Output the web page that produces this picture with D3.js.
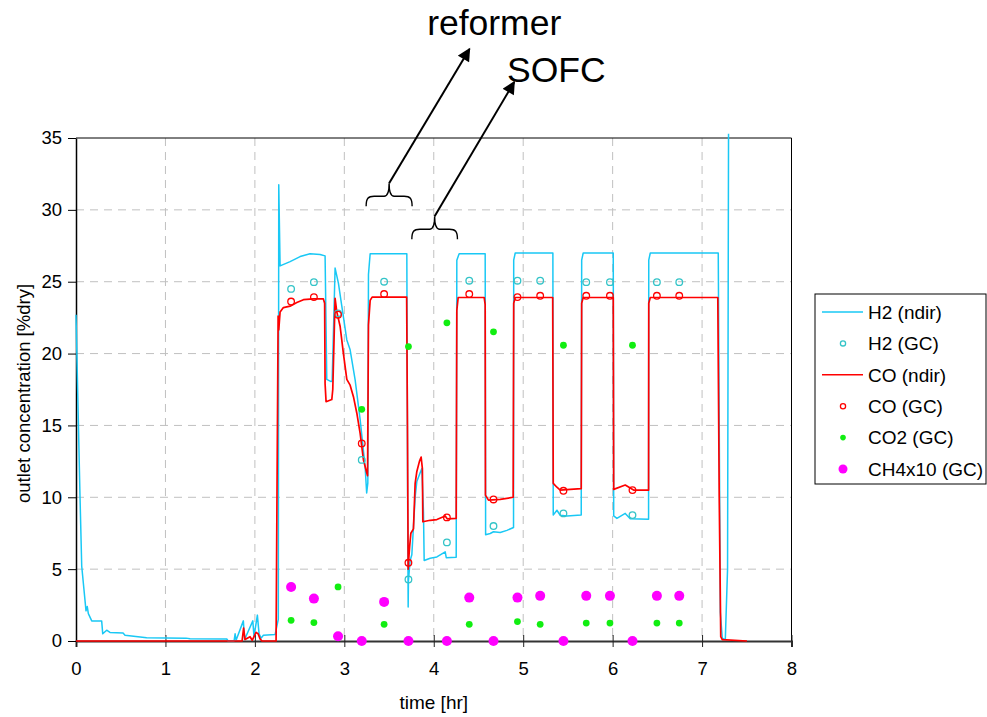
<!DOCTYPE html>
<html>
<head>
<meta charset="utf-8">
<script src="https://cdn.jsdelivr.net/npm/d3@7"></script>
<style>
  body { margin: 0; background: #fff; }
  svg { font-family: "Liberation Sans", Arial, sans-serif; }
</style>
</head>
<body>
<div id="grafica"></div>
<script>
// GC sample times [hr] and values [%dry]
var gcTime = [2.405, 2.66, 2.93, 3.195, 3.445, 3.717, 4.147, 4.397, 4.668, 4.936, 5.19, 5.45, 5.705, 5.97, 6.222, 6.495, 6.745];
var h2GC   = [24.5, 24.97, 22.8, 12.6, 25.0, 4.28, 6.86, 25.07, 8.0, 25.07, 25.07, 8.88, 24.97, 24.97, 8.76, 24.97, 24.97];
var coGC   = [23.62, 23.93, 22.7, 13.75, 24.14, 5.44, 8.6, 24.14, 9.85, 23.93, 24.02, 10.45, 24.02, 24.02, 10.5, 24.02, 24.02];
var co2GC  = [1.44, 1.28, 3.76, 16.12, 1.16, 20.49, 22.14, 1.16, 21.51, 1.35, 1.16, 20.58, 1.25, 1.25, 20.58, 1.25, 1.25];
var ch4GC  = [3.76, 2.95, 0.33, 0, 2.72, 0, 0, 3.02, 0, 3.02, 3.14, 0, 3.14, 3.14, 0, 3.14, 3.14];

// continuous analyser traces [time, value]
var h2Ndir = [
  [0, 22.7], [0.045, 10], [0.064, 5.2], [0.112, 2.1], [0.126, 2.4], [0.138, 1.9], [0.176, 1.4], [0.287, 1.4],
  [0.299, 0.5], [0.343, 0.75], [0.38, 0.6], [0.526, 0.56], [0.548, 0.4], [0.79, 0.23], [1.23, 0.2], [1.275, 0.15],
  [1.686, 0.14], [1.70, 0], [1.767, 0], [1.779, 0.5], [1.79, 0.05], [1.871, 1.4], [1.885, 0.1], [1.977, 1.4],
  [1.99, 0.3], [2.028, 1.8], [2.047, 0.5], [2.07, 0.2], [2.095, 0.4], [2.226, 0.45], [2.262, 1.5], [2.267, 31.75],
  [2.282, 26.1], [2.394, 26.4], [2.506, 26.75], [2.617, 26.95], [2.729, 26.9], [2.785, 26.8], [2.804, 18.2],
  [2.852, 18.05], [2.864, 18.1], [2.897, 25.95], [2.934, 24.9], [2.972, 23.3], [3.028, 20.95], [3.065, 20.26],
  [3.121, 18.17], [3.177, 15.4], [3.233, 12.1], [3.25, 10.3], [3.263, 11.0], [3.27, 25.5], [3.289, 26.95],
  [3.699, 26.95], [3.708, 10], [3.714, 2.37], [3.717, 4.2], [3.736, 5.6], [3.755, 6.0], [3.792, 10.0],
  [3.811, 11.1], [3.848, 11.7], [3.867, 12.0], [3.885, 9.0], [3.893, 5.6], [3.96, 5.76], [4.035, 5.85],
  [4.128, 6.2], [4.14, 5.8], [4.251, 5.83], [4.258, 26.5], [4.284, 26.95], [4.575, 26.95], [4.58, 7.4],
  [4.631, 7.48], [4.668, 7.6], [4.743, 7.55], [4.818, 7.7], [4.892, 7.9], [4.894, 26.5], [4.911, 27.0],
  [5.332, 27.0], [5.336, 8.76], [5.377, 9.1], [5.414, 8.75], [5.489, 8.7], [5.649, 8.76], [5.654, 26.5],
  [5.671, 27.0], [6.007, 27.0], [6.012, 8.7], [6.048, 8.53], [6.141, 8.88], [6.197, 8.5], [6.402, 8.48],
  [6.404, 26.5], [6.421, 27.0], [7.181, 27.0], [7.192, 15], [7.204, 2], [7.226, 0.2], [7.26, 0.1],
  [7.285, 5], [7.296, 35.3]
];
var coNdir = [
  [0, 0], [1.857, 0], [1.874, 0.9], [1.89, 0.1], [1.946, 0.3], [1.97, 0.05], [2.013, 0.6], [2.036, 0.5],
  [2.058, 0.15], [2.08, 0], [2.237, 0], [2.26, 22.6], [2.267, 21.65], [2.282, 22.9], [2.319, 23.2],
  [2.394, 23.3], [2.469, 23.55], [2.543, 23.75], [2.654, 23.8], [2.766, 23.8], [2.78, 23.5], [2.785, 17.9],
  [2.796, 16.65], [2.86, 16.8], [2.871, 17.5], [2.897, 23.85], [2.916, 22.9], [2.953, 21.9], [2.99, 20.0],
  [3.028, 18.2], [3.065, 17.8], [3.102, 17.0], [3.14, 15.85], [3.177, 14.45], [3.214, 12.6], [3.252, 11.67],
  [3.26, 11.5], [3.27, 22.0], [3.289, 23.7], [3.311, 23.93], [3.697, 23.93], [3.706, 15], [3.714, 5.0],
  [3.717, 5.4], [3.73, 6.55], [3.744, 7.5], [3.773, 7.8], [3.792, 10.97], [3.811, 11.8], [3.84, 12.5],
  [3.859, 12.8], [3.873, 12.0], [3.878, 8.3], [3.96, 8.4], [4.035, 8.45], [4.128, 8.7], [4.15, 8.5],
  [4.251, 8.53], [4.258, 23.0], [4.273, 23.9], [4.564, 23.9], [4.575, 23.4], [4.578, 10.15], [4.612, 9.8],
  [4.743, 9.85], [4.888, 10.0], [4.894, 23.5], [4.911, 23.9], [5.33, 23.9], [5.336, 10.97], [5.377, 10.7],
  [5.414, 10.5], [5.526, 10.55], [5.649, 10.6], [5.654, 23.5], [5.671, 23.9], [6.007, 23.9], [6.012, 10.55],
  [6.141, 10.85], [6.234, 10.5], [6.402, 10.5], [6.404, 23.5], [6.421, 23.9], [7.176, 23.9], [7.192, 10],
  [7.209, 0.3], [7.226, 0.1], [7.502, 0]
];

var xTicks = [0, 1, 2, 3, 4, 5, 6, 7, 8];
var yTicks = [0, 5, 10, 15, 20, 25, 30, 35];
var legendNames = ["H2 (ndir)", "H2 (GC)", "CO (ndir)", "CO (GC)", "CO2 (GC)", "CH4x10 (GC)"];

// annotations: brace [t0, t1, y], arrow [t, y] -> [t, y], label
var braceLabels = ["reformer", "SOFC"];
var braceSpans = [[3.244, 3.758, 30.95], [3.755, 4.265, 28.65]];
var arrowEnds = [[4.4, 41.2], [4.9, 38.9]];
var labelPos = [[3.926, 42.2], [4.82, 38.87]];

var w_full = 987, h_full = 717;
var margin = { top: 138, right: 195.5, bottom: 76, left: 76 };
var w = w_full - margin.left - margin.right,
    h = h_full - margin.top - margin.bottom;

var colH2 = "#19c8f5", colCO = "#ff0000", colH2gc = "#33c4c8", colCO2 = "#11ee11", colCH4 = "#ff00ff";

var svg = d3.select("#grafica")
    .append("svg")
    .attr("width", w_full)
    .attr("height", h_full);

var g = svg.append("g")
    .attr("transform", "translate(" + margin.left + "," + margin.top + ")");

var x = d3.scaleLinear().domain([0, 8]).range([0, w]);
var y = d3.scaleLinear().domain([0, 35]).range([h, 0]);

// grid lines
g.selectAll(".vgrid")
    .data(xTicks.slice(1, -1))
    .enter().append("line")
    .attr("x1", function(d) { return x(d); })
    .attr("x2", function(d) { return x(d); })
    .attr("y1", 0).attr("y2", h)
    .attr("stroke", "#c0c0c0")
    .attr("stroke-dasharray", "8,6");

g.selectAll(".hgrid")
    .data(yTicks.slice(1, -1))
    .enter().append("line")
    .attr("x1", 0).attr("x2", w)
    .attr("y1", function(d) { return y(d); })
    .attr("y2", function(d) { return y(d); })
    .attr("stroke", "#c0c0c0")
    .attr("stroke-dasharray", "8,6");

// frame top / right
g.append("line").attr("x1", 0).attr("x2", w).attr("y1", 0).attr("y2", 0).attr("stroke", "#000");
g.append("line").attr("x1", w).attr("x2", w).attr("y1", 0).attr("y2", h).attr("stroke", "#000");

// Add X axis
var xAxis = g.append("g")
    .attr("transform", "translate(0," + h + ")")
    .call(d3.axisBottom(x).tickValues(xTicks).tickSize(6).tickPadding(15).tickFormat(d3.format("d")));
xAxis.select(".domain").attr("stroke", "#333").attr("stroke-width", 2);
xAxis.selectAll(".tick line").attr("y1", -6).attr("y2", 6).attr("stroke", "#222");
xAxis.selectAll("text").style("font-size", "18.5px").attr("fill", "#000");

// Add Y axis
var yAxis = g.append("g")
    .call(d3.axisLeft(y).tickValues(yTicks).tickSize(8).tickPadding(6).tickSizeOuter(0));
yAxis.select(".domain").attr("stroke", "#000").attr("stroke-width", 1.5);
yAxis.selectAll(".tick line").attr("stroke", "#000");
yAxis.selectAll("text").style("font-size", "18.5px").attr("fill", "#000");

// axis titles
g.append("text")
    .attr("x", x(4))
    .attr("y", h + 68)
    .style("text-anchor", "middle")
    .style("font-size", "19px")
    .text("time [hr]");

g.append("text")
    .attr("transform", "translate(" + (-46) + "," + (h / 2 + 4) + ") rotate(-90)")
    .style("text-anchor", "middle")
    .style("font-size", "18.5px")
    .text("outlet concentration [%dry]");

// analyser lines
var line = d3.line()
    .x(function(d) { return x(d[0]); })
    .y(function(d) { return y(d[1]); });

g.append("path").datum(h2Ndir)
    .attr("fill", "none").attr("stroke", colH2).attr("stroke-width", 1.5)
    .attr("stroke-linejoin", "round")
    .attr("d", line);

g.append("path").datum(coNdir)
    .attr("fill", "none").attr("stroke", colCO).attr("stroke-width", 1.7)
    .attr("stroke-linejoin", "round")
    .attr("d", line);

// GC points
function dots(vals, r, fill, stroke) {
    g.selectAll(null)
        .data(vals)
        .enter().append("circle")
        .attr("cx", function(d, i) { return x(gcTime[i]); })
        .attr("cy", function(d) { return y(d); })
        .attr("r", r)
        .attr("fill", fill)
        .attr("stroke", stroke)
        .attr("stroke-width", 1.3);
}
dots(ch4GC, 5, colCH4, "none");
dots(co2GC, 3.4, colCO2, "none");
dots(h2GC, 3.3, "none", colH2gc);
dots(coGC, 3.3, "none", colCO);

// braces and arrows
svg.append("defs").append("marker")
    .attr("id", "head")
    .attr("viewBox", "0 0 10 10")
    .attr("refX", 9).attr("refY", 5)
    .attr("markerWidth", 7).attr("markerHeight", 6.5)
    .attr("markerUnits", "strokeWidth")
    .attr("orient", "auto")
    .append("path").attr("d", "M0,0 L10,5 L0,10 z").attr("fill", "#000");

braceSpans.forEach(function(b, i) {
    var x0 = x(b[0]), x1 = x(b[1]), yb = y(b[2]), xm = (x0 + x1) / 2;
    var p = "M" + x0 + "," + (yb + 10) +
        " C" + x0 + "," + (yb + 2) + " " + (x0 + 2) + "," + yb + " " + (x0 + 8) + "," + yb +
        " L" + (xm - 5) + "," + yb +
        " C" + (xm - 2) + "," + yb + " " + xm + "," + (yb - 3) + " " + xm + "," + (yb - 13) +
        " C" + xm + "," + (yb - 3) + " " + (xm + 2) + "," + yb + " " + (xm + 5) + "," + yb +
        " L" + (x1 - 8) + "," + yb +
        " C" + (x1 - 2) + "," + yb + " " + x1 + "," + (yb + 2) + " " + x1 + "," + (yb + 10);
    g.append("path").attr("d", p).attr("fill", "none").attr("stroke", "#000").attr("stroke-width", 1.4);

    g.append("line")
        .attr("x1", xm).attr("y1", yb - 13)
        .attr("x2", x(arrowEnds[i][0])).attr("y2", y(arrowEnds[i][1]))
        .attr("stroke", "#000").attr("stroke-width", 2)
        .attr("marker-end", "url(#head)");

    g.append("text")
        .attr("x", x(labelPos[i][0]))
        .attr("y", y(labelPos[i][1]))
        .style("font-size", "35.5px")
        .text(braceLabels[i]);
});

// Leyenda
var leg = svg.append("g").attr("transform", "translate(815,294)");
leg.append("rect")
    .attr("width", 171).attr("height", 190)
    .attr("fill", "#fff").attr("stroke", "#000").attr("stroke-width", 1);

var legY = function(i) { return 18 + i * 31.4; };
legendNames.forEach(function(name, i) {
    var cy = legY(i);
    if (i === 0 || i === 2) {
        leg.append("line").attr("x1", 7).attr("x2", 48).attr("y1", cy).attr("y2", cy)
            .attr("stroke", i === 0 ? colH2 : colCO).attr("stroke-width", 1.4);
    } else if (i === 1 || i === 3) {
        leg.append("circle").attr("cx", 28).attr("cy", cy).attr("r", 2.6)
            .attr("fill", "none").attr("stroke", i === 1 ? colH2gc : colCO).attr("stroke-width", 1.3);
    } else {
        leg.append("circle").attr("cx", 28).attr("cy", cy).attr("r", i === 4 ? 2.8 : 4.5)
            .attr("fill", i === 4 ? colCO2 : colCH4);
    }
    leg.append("text").attr("x", 53).attr("y", cy).attr("dy", "0.36em")
        .style("font-size", "19px").text(name);
});
</script>
</body>
</html>
